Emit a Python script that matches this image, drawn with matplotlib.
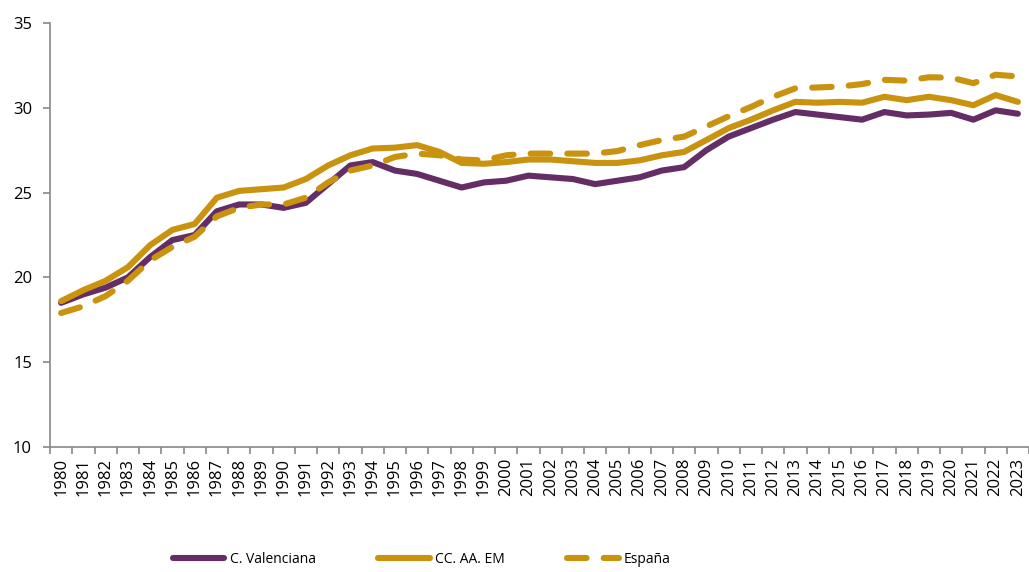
import matplotlib.pyplot as plt
import numpy as np

plt.rcParams['font.family'] = ['Open Sans', 'DejaVu Sans']

anos = [str(a) for a in range(1980, 2024)]

valenciana = [18.5, 19.0, 19.4, 20.0, 21.2, 22.2, 22.5, 23.9, 24.3, 24.3, 24.1, 24.4,
              25.5, 26.6, 26.8, 26.3, 26.1, 25.7, 25.3, 25.6, 25.7, 26.0, 25.9, 25.8,
              25.5, 25.7, 25.9, 26.3, 26.5, 27.5, 28.3, 28.8, 29.3, 29.75, 29.6, 29.45,
              29.3, 29.75, 29.55, 29.6, 29.7, 29.3, 29.85, 29.65]

ccaa_em = [18.6, 19.25, 19.8, 20.6, 21.9, 22.8, 23.15, 24.7, 25.1, 25.2, 25.3, 25.8,
           26.6, 27.2, 27.6, 27.65, 27.8, 27.4, 26.75, 26.7, 26.8, 26.95, 26.95, 26.85,
           26.75, 26.75, 26.9, 27.2, 27.4, 28.1, 28.8, 29.3, 29.85, 30.35, 30.3, 30.35,
           30.3, 30.65, 30.45, 30.65, 30.45, 30.15, 30.75, 30.35]

espana = [17.9, 18.3, 18.9, 19.8, 21.0, 21.8, 22.4, 23.6, 24.1, 24.3, 24.3, 24.7,
          25.6, 26.3, 26.6, 27.1, 27.3, 27.2, 26.95, 26.9, 27.2, 27.3, 27.3, 27.3,
          27.3, 27.45, 27.8, 28.1, 28.3, 28.9, 29.5, 30.05, 30.65, 31.15, 31.2, 31.25,
          31.4, 31.65, 31.6, 31.8, 31.78, 31.45, 31.95, 31.85]

morado = '#652D65'
oro = '#C9930F'

fig = plt.figure(figsize=(10.29, 5.72), dpi=100)
ax = fig.add_axes([50/1029, 1 - 447/572, 1 - 50/1029, (447 - 23)/572])

x = np.arange(len(anos))
lw = 4.4
ax.plot(x, valenciana, color=morado, lw=lw, solid_capstyle='round', solid_joinstyle='round',
        label='C. Valenciana')
ax.plot(x, ccaa_em, color=oro, lw=lw, solid_capstyle='round', solid_joinstyle='round',
        label='CC. AA. EM')
ax.plot(x, espana, color=oro, lw=lw, linestyle=(0, (3.2, 2.8)), dash_capstyle='round',
        label='España')

ax.set_xlim(-0.5, len(anos) - 0.5)
ax.set_ylim(10, 35)
ax.set_yticks([10, 15, 20, 25, 30, 35])
ax.set_xticks(x)
ax.set_xticklabels(anos, rotation=90)
ax.set_xticks(np.arange(-0.5, len(anos)), minor=True)
ax.tick_params(axis='x', which='major', length=0, pad=8, labelsize=12, colors='black')
ax.tick_params(axis='x', which='minor', length=5, color='#888888', width=1.2)
ax.tick_params(axis='y', length=5, color='#888888', width=1.2, labelsize=12, pad=8)

for lado in ['top', 'right']:
    ax.spines[lado].set_visible(False)
for lado in ['left', 'bottom']:
    ax.spines[lado].set_color('#888888')
    ax.spines[lado].set_linewidth(1.2)

fig.legend(loc='center', bbox_to_anchor=(0.41, 0.022), ncol=3, frameon=False, fontsize=10,
           handlelength=3.7, handletextpad=0.38, columnspacing=4.5)

fig.savefig('out.png', dpi=100)
